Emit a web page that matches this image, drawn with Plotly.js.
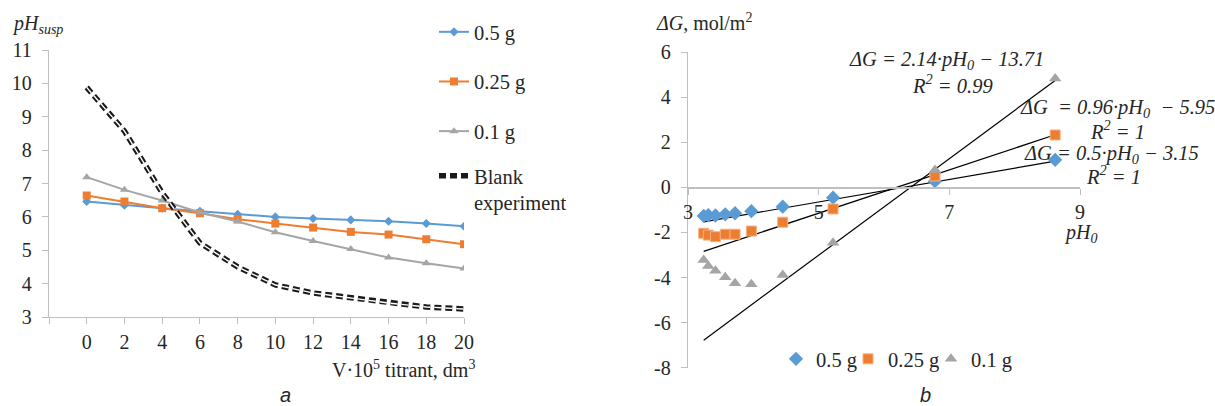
<!DOCTYPE html>
<html>
<head>
<meta charset="utf-8">
<script src="https://cdn.plot.ly/plotly-3.0.1.min.js"></script>
<style>html,body{margin:0;padding:0;background:#fff;}#chart{width:1215px;height:406px;}</style>
</head>
<body>
<div id="chart"></div>
<script>
// ---- Panel a: pH of suspension vs titrant volume ----
const titrantV = [0, 2, 4, 6, 8, 10, 12, 14, 16, 18, 20];
const xTickVals = [-2, 0, 2, 4, 6, 8, 10, 12, 14, 16, 18, 20];
const xTickText = ['', '0', '2', '4', '6', '8', '10', '12', '14', '16', '18', '20'];
const yTickVals = [3, 4, 5, 6, 7, 8, 9, 10, 11];
const pH_05 = [6.46, 6.35, 6.26, 6.17, 6.08, 6.00, 5.95, 5.91, 5.87, 5.80, 5.72];
const pH_025 = [6.64, 6.46, 6.26, 6.11, 5.93, 5.80, 5.68, 5.55, 5.47, 5.33, 5.18];
const pH_01 = [7.19, 6.81, 6.49, 6.13, 5.86, 5.54, 5.28, 5.04, 4.78, 4.61, 4.45];
const pH_blank = [9.88, 8.57, 6.72, 5.22, 4.50, 3.96, 3.72, 3.57, 3.42, 3.30, 3.24];

// ---- Panel b: ΔG vs pH0 ----
const pH0 = [3.24, 3.31, 3.42, 3.57, 3.72, 3.97, 4.45, 5.22, 6.78, 8.62];
const dG_05 = [-1.27, -1.24, -1.25, -1.20, -1.15, -1.06, -0.86, -0.46, 0.27, 1.22];
const dG_025 = [-2.04, -2.12, -2.19, -2.08, -2.08, -1.94, -1.55, -0.96, 0.50, 2.32];
const dG_01 = [-3.22, -3.49, -3.70, -3.99, -4.26, -4.30, -3.89, -2.46, 0.77, 4.83];
const bTickVals = [-8, -6, -4, -2, 0, 2, 4, 6];
const bTickText = ['-8', '-6', '-4', '-2', '0', '2', '4', '6'];
const bXTickVals = [3, 5, 7, 9];
// trend line end points
const trendX = [3.24, 8.62];
const trend_05 = [-1.53, 1.16];
const trend_025 = [-2.84, 2.33];
const trend_01 = [-6.78, 4.74];

const blue = '#5B9BD5', orange = '#ED7D31', gray = '#A5A5A5';
const serif = '"Liberation Serif", "Times New Roman", serif';
const sans = '"Liberation Sans", Arial, sans-serif';
const txt = '#262626';
const axCol = '#BFBFBF';

const W = 1215, H = 406;
const fx = p => p / W;
const fy = p => 1 - p / H;

const traces = [
  {x: titrantV, y: pH_05, xaxis: 'x', yaxis: 'y', mode: 'lines+markers', name: '0.5 g', legendgroup: 'a1',
   line: {color: blue, width: 2}, marker: {symbol: 'diamond', size: 7, color: blue}},
  {x: titrantV, y: pH_025, xaxis: 'x', yaxis: 'y', mode: 'lines+markers', name: '0.25 g', legendgroup: 'a2',
   line: {color: orange, width: 2}, marker: {symbol: 'square', size: 8, color: orange}},
  {x: titrantV, y: pH_01, xaxis: 'x', yaxis: 'y', mode: 'lines+markers', name: '0.1 g', legendgroup: 'a3',
   line: {color: gray, width: 2}, marker: {symbol: 'triangle-up', size: 8, color: gray}},
  {x: titrantV, y: pH_blank, xaxis: 'x', yaxis: 'y', mode: 'lines', name: 'Blank<br>experiment', legend: 'legend3',
   line: {color: '#1a1a1a', width: 5.5, dash: '7px,4px'}},
  {x: titrantV, y: pH_blank, xaxis: 'x', yaxis: 'y', mode: 'lines', showlegend: false, hoverinfo: 'skip',
   line: {color: '#ffffff', width: 1.4, dash: '7px,4px'}},

  {x: trendX, y: trend_05, xaxis: 'x2', yaxis: 'y2', mode: 'lines', showlegend: false,
   line: {color: '#000', width: 1.2}},
  {x: trendX, y: trend_025, xaxis: 'x2', yaxis: 'y2', mode: 'lines', showlegend: false,
   line: {color: '#000', width: 1.2}},
  {x: trendX, y: trend_01, xaxis: 'x2', yaxis: 'y2', mode: 'lines', showlegend: false,
   line: {color: '#000', width: 1.2}},
  {x: pH0, y: dG_05, xaxis: 'x2', yaxis: 'y2', mode: 'markers', name: '0.5 g', legend: 'legend2',
   marker: {symbol: 'diamond', size: 11, color: blue}},
  {x: pH0, y: dG_025, xaxis: 'x2', yaxis: 'y2', mode: 'markers', name: '0.25 g', legend: 'legend4',
   marker: {symbol: 'square', size: 10, color: orange, line: {color: '#F4B183', width: 1}}},
  {x: pH0, y: dG_01, xaxis: 'x2', yaxis: 'y2', mode: 'markers', name: '0.1 g', legend: 'legend5',
   marker: {symbol: 'triangle-up', size: 11, color: gray}}
];

const tickFont = {family: serif, size: 20, color: txt};
const legFont = {family: serif, size: 20.5, color: txt};
const y2dom = [fy(367.7), fy(52)];
const zeroPos = y2dom[0] + (0 - (-8)) / 14 * (y2dom[1] - y2dom[0]);

const eqFont = {family: serif, size: 20.5, color: txt};
const ann = (x, y, text, font, extra) => Object.assign({xref: 'paper', yref: 'paper', x: fx(x), y: fy(y),
  text: text, showarrow: false, font: font, xanchor: 'center', yanchor: 'middle'}, extra || {});
const bLeg = x => ({x: fx(x), y: fy(359), xanchor: 'left', yanchor: 'middle', orientation: 'h',
  font: legFont, itemwidth: 30, bgcolor: 'rgba(0,0,0,0)'});

const layout = {
  width: W, height: H,
  margin: {l: 0, r: 0, t: 0, b: 0},
  paper_bgcolor: '#fff', plot_bgcolor: 'rgba(0,0,0,0)',
  font: {family: serif, size: 20, color: txt},
  showlegend: true,
  xaxis: {domain: [fx(49), fx(464)], range: [-2, 20], tickvals: xTickVals, ticktext: xTickText,
    showgrid: false, zeroline: false, showline: true, linecolor: axCol, linewidth: 1.3,
    ticks: 'outside', ticklen: 6, tickcolor: axCol, tickfont: tickFont, ticklabelstandoff: 1, anchor: 'y'},
  yaxis: {domain: [fy(317), fy(50)], range: [3, 11], tickvals: yTickVals, showgrid: false, zeroline: false,
    showline: true, linecolor: axCol, linewidth: 1.3, ticks: 'outside', ticklen: 6, tickcolor: axCol,
    tickfont: tickFont, ticklabelstandoff: 6, anchor: 'x'},
  xaxis2: {domain: [fx(688), fx(1080)], range: [3, 9], tickvals: bXTickVals,
    showgrid: false, zeroline: false, showline: true, linecolor: axCol, linewidth: 1.3,
    ticks: 'outside', ticklen: 6, tickcolor: axCol, tickfont: tickFont, ticklabelstandoff: 0,
    anchor: 'free', position: zeroPos},
  yaxis2: {domain: y2dom, range: [-8, 6], tickvals: bTickVals, ticktext: bTickText, showgrid: false, zeroline: false,
    showline: true, linecolor: axCol, linewidth: 1.3, ticks: 'outside', ticklen: 6, tickcolor: axCol,
    tickfont: tickFont, ticklabelstandoff: 6, anchor: 'x2'},
  legend: {x: fx(434), y: fy(12), xanchor: 'left', yanchor: 'top', orientation: 'v',
    font: legFont, tracegroupgap: 20, valign: 'top', bgcolor: 'rgba(0,0,0,0)'},
  legend3: {x: fx(434), y: fy(156), xanchor: 'left', yanchor: 'top', orientation: 'v',
    font: legFont, valign: 'top', bgcolor: 'rgba(0,0,0,0)'},
  legend2: bLeg(776),
  legend4: bLeg(848),
  legend5: bLeg(931),
  annotations: [
    ann(37, 25, '<i>pH<sub>susp</sub></i>', {family: serif, size: 20, color: txt}),
    ann(403, 369, 'V·10<sup>5</sup> titrant, dm<sup>3</sup>', {family: serif, size: 20, color: txt}),
    ann(285, 395, '<i>a</i>', {family: sans, size: 20, color: txt}),
    ann(704, 22, '<i>ΔG</i>, mol/m<sup>2</sup>', {family: serif, size: 20, color: txt}),
    ann(1080, 234, '<i>pH<sub>0</sub></i>', {family: serif, size: 20, color: txt}),
    ann(925, 395, '<i>b</i>', {family: sans, size: 20, color: txt}),
    ann(946, 61, '<i>ΔG = 2.14·pH<sub>0</sub> − 13.71</i>', eqFont),
    ann(952, 84, '<i>R<sup>2</sup> = 0.99</i>', eqFont),
    ann(1117, 108, '<i>ΔG  = 0.96·pH<sub>0</sub>  − 5.95</i>', eqFont),
    ann(1117, 130, '<i>R<sup>2</sup> = 1</i>', eqFont),
    ann(1111, 154, '<i>ΔG = 0.5·pH<sub>0</sub> − 3.15</i>', eqFont),
    ann(1113, 175, '<i>R<sup>2</sup> = 1</i>', eqFont)
  ]
};

Plotly.newPlot('chart', traces, layout, {displayModeBar: false, staticPlot: true});
</script>
</body>
</html>
